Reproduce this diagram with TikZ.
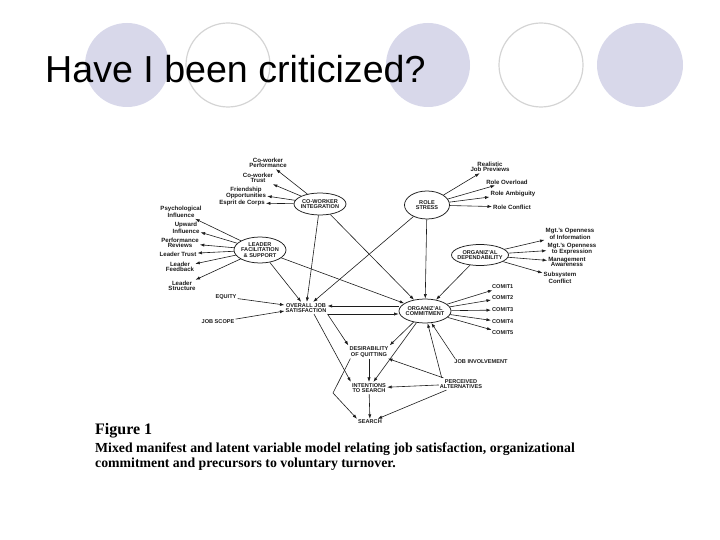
\documentclass[tikz,border=0pt]{standalone}
\usepackage{fontspec}
\setmainfont{Liberation Sans}
\newfontfamily\capserif{Liberation Serif}
\usetikzlibrary{shapes.geometric,arrows.meta}
\definecolor{slidelav}{RGB}{216,216,234}
\definecolor{slidering}{RGB}{212,212,212}
\definecolor{scanink}{RGB}{28,28,28}
\newcommand{\jsmcaps}{\fontsize{5.6}{5.8}\selectfont\bfseries}
\newcommand{\jsmitem}{\fontsize{6.1}{5.6}\selectfont\bfseries}
\tikzset{
 jsm latent/.style={ellipse,draw=scanink,line width=.75pt,inner sep=-6pt,
                    font=\jsmcaps,align=center,text=scanink},
 jsm label/.style={inner sep=1pt,font=\jsmcaps,align=center,text=scanink},
 jsm item/.style={inner sep=1pt,font=\jsmitem,align=center,text=scanink},
 jsm path/.style={-{Latex[length=4.5pt,width=3.2pt]},line width=.6pt,draw=scanink},
 slide disc/.style={fill=slidelav},
 slide ring/.style={draw=slidering,line width=1.2pt}
}

\begin{document}
\begin{tikzpicture}[x=1pt,y=-1pt]
 \useasboundingbox (0,0) rectangle (720,540);
 % slide decoration
 \fill[slide disc] (127,65) ellipse (42 and 42);
 \draw[slide ring] (228,65) ellipse (42 and 42);
 \fill[slide disc] (428,65) ellipse (42 and 42);
 \draw[slide ring] (541,65) ellipse (42 and 42);
 \fill[slide disc] (640,65) ellipse (43 and 42);
 \node[anchor=base west,inner sep=0pt,font=\fontsize{37.6}{40}\selectfont] (title) at (45,83)
   {Have I been criticized?};

 % latent variables
 \node[jsm latent,minimum width=52pt,minimum height=22pt] (cwi) at (320,204) {CO-WORKER\\INTEGRATION};
 \node[jsm latent,minimum width=45pt,minimum height=28pt] (rst) at (427,205) {ROLE\\STRESS};
 \node[jsm latent,minimum width=52pt,minimum height=26pt] (lfs) at (260,250) {LEADER\\FACILITATION\\\& SUPPORT};
 \node[jsm latent,minimum width=57pt,minimum height=21pt] (odp) at (480,255) {ORGANIZ'AL\\DEPENDABILITY};
 \node[jsm latent,minimum width=52pt,minimum height=24pt] (ocm) at (425,311) {ORGANIZ'AL\\COMMITMENT};

 % manifest variables
 \node[jsm label] (ojs) at (306,308) {OVERALL JOB\\SATISFACTION};
 \node[jsm label] (doq) at (369,352) {DESIRABILITY\\OF QUITTING};
 \node[jsm label] (its) at (369,388) {INTENTIONS\\TO SEARCH};
 \node[jsm label] (srch) at (370,422) {SEARCH};
 \node[jsm label] (pal) at (461,384) {PERCEIVED\\ALTERNATIVES};
 \node[jsm label] (jin) at (481,362) {JOB INVOLVEMENT};
 \node[jsm label] (equ) at (226,297) {EQUITY};
 \node[jsm label] (jsc) at (218,322) {JOB SCOPE};
 \foreach \i/\y in {1/287,2/298,3/310,4/322,5/333}
   \node[jsm label,anchor=west] (cm\i) at (491,\y) {COMIT\i};

 % indicators
 \node[jsm item] (cw1) at (268,163) {Co-worker\\Performance};
 \node[jsm item] (cw2) at (258,178) {Co-worker\\Trust};
 \node[jsm item] (cw3) at (246,193) {Friendship\\Opportunities};
 \node[jsm item] (cw4) at (242,203) {Esprit de Corps};
 \node[jsm item] (ld1) at (181,212) {Psychological\\Influence};
 \node[jsm item] (ld2) at (186,228) {Upward\\Influence};
 \node[jsm item] (ld3) at (180,243) {Performance\\Reviews};
 \node[jsm item] (ld4) at (178,254) {Leader Trust};
 \node[jsm item] (ld5) at (180,267) {Leader\\Feedback};
 \node[jsm item] (ld6) at (182,286) {Leader\\Structure};
 \node[jsm item] (rs1) at (490,167) {Realistic\\Job Previews};
 \node[jsm item] (rs2) at (507,182) {Role Overload};
 \node[jsm item] (rs3) at (513,194) {Role Ambiguity};
 \node[jsm item] (rs4) at (512,207) {Role Conflict};
 \node[jsm item] (od1) at (570,234) {Mgt.'s Openness\\of Information};
 \node[jsm item] (od2) at (572,249) {Mgt.'s Openness\\to Expression};
 \node[jsm item] (od3) at (567,262) {Management\\Awareness};
 \node[jsm item] (od4) at (560,278) {Subsystem\\Conflict};

 % measurement arrows
 \foreach \i in {1,...,4} \draw[jsm path] (cwi) -- (cw\i);
 \foreach \i in {1,...,6} \draw[jsm path] (lfs) -- (ld\i);
 \foreach \i in {1,...,4} \draw[jsm path] (rst) -- (rs\i);
 \foreach \i in {1,...,4} \draw[jsm path] (odp) -- (od\i);
 \foreach \i in {1,...,5} \draw[jsm path] (ocm) -- (cm\i);

 % structural paths
 \draw[jsm path] (cwi) -- (ojs);
 \draw[jsm path] (lfs) -- (ojs);
 \draw[jsm path] (rst) -- (ojs);
 \draw[jsm path] (equ) -- ([yshift=3pt]ojs.west);
 \draw[jsm path] (jsc) -- ([yshift=-3pt]ojs.west);
 \draw[jsm path] (cwi) -- (ocm);
 \draw[jsm path] (rst) -- (ocm);
 \draw[jsm path] (lfs) -- (ocm);
 \draw[jsm path] (odp) -- (ocm);
 \draw[jsm path] ([yshift=5pt]ocm.west) -- ([yshift=5pt]ocm.west -| ojs.east);
 \draw[jsm path] ([yshift=-3pt]ocm.west -| ojs.east) -- ([yshift=-3pt]ocm.west);
 \draw[jsm path] ([xshift=2pt]jin.north west) -- (ocm.-62);
 \draw[jsm path] ([xshift=3pt]pal.north west) -- (ocm.-78);
 \draw[jsm path] (ocm) -- (doq.north east);
 \draw[jsm path] (ocm) -- (its);
 \draw[jsm path] (ojs.south east) -- (doq.north west);
 \draw[jsm path] ([xshift=8pt]ojs.south) -- (its.north west);
 \draw[jsm path] (doq) -- (its);
 \draw[jsm path] (its) -- (srch);
 \coordinate (dq bend) at (333,393);
 \draw[jsm path] ([xshift=2pt]doq.south west) -- (dq bend) -- (srch.north west);
 \draw[jsm path] (pal) -- (doq);
 \draw[jsm path] (pal) -- (its);
 \draw[jsm path] (pal) -- (srch);

 % caption
 \node[anchor=base west,inner sep=0pt,font=\capserif\bfseries\fontsize{16}{18}\selectfont] (figno) at (95,434) {Figure 1};
 \node[anchor=base west,inner sep=0pt,align=left,font=\capserif\bfseries\fontsize{13.8}{15}\selectfont] (figcap) at (95,467)
   {Mixed manifest and latent variable model relating job satisfaction, organizational\\
    commitment and precursors to voluntary turnover.};
\end{tikzpicture}
\end{document}
